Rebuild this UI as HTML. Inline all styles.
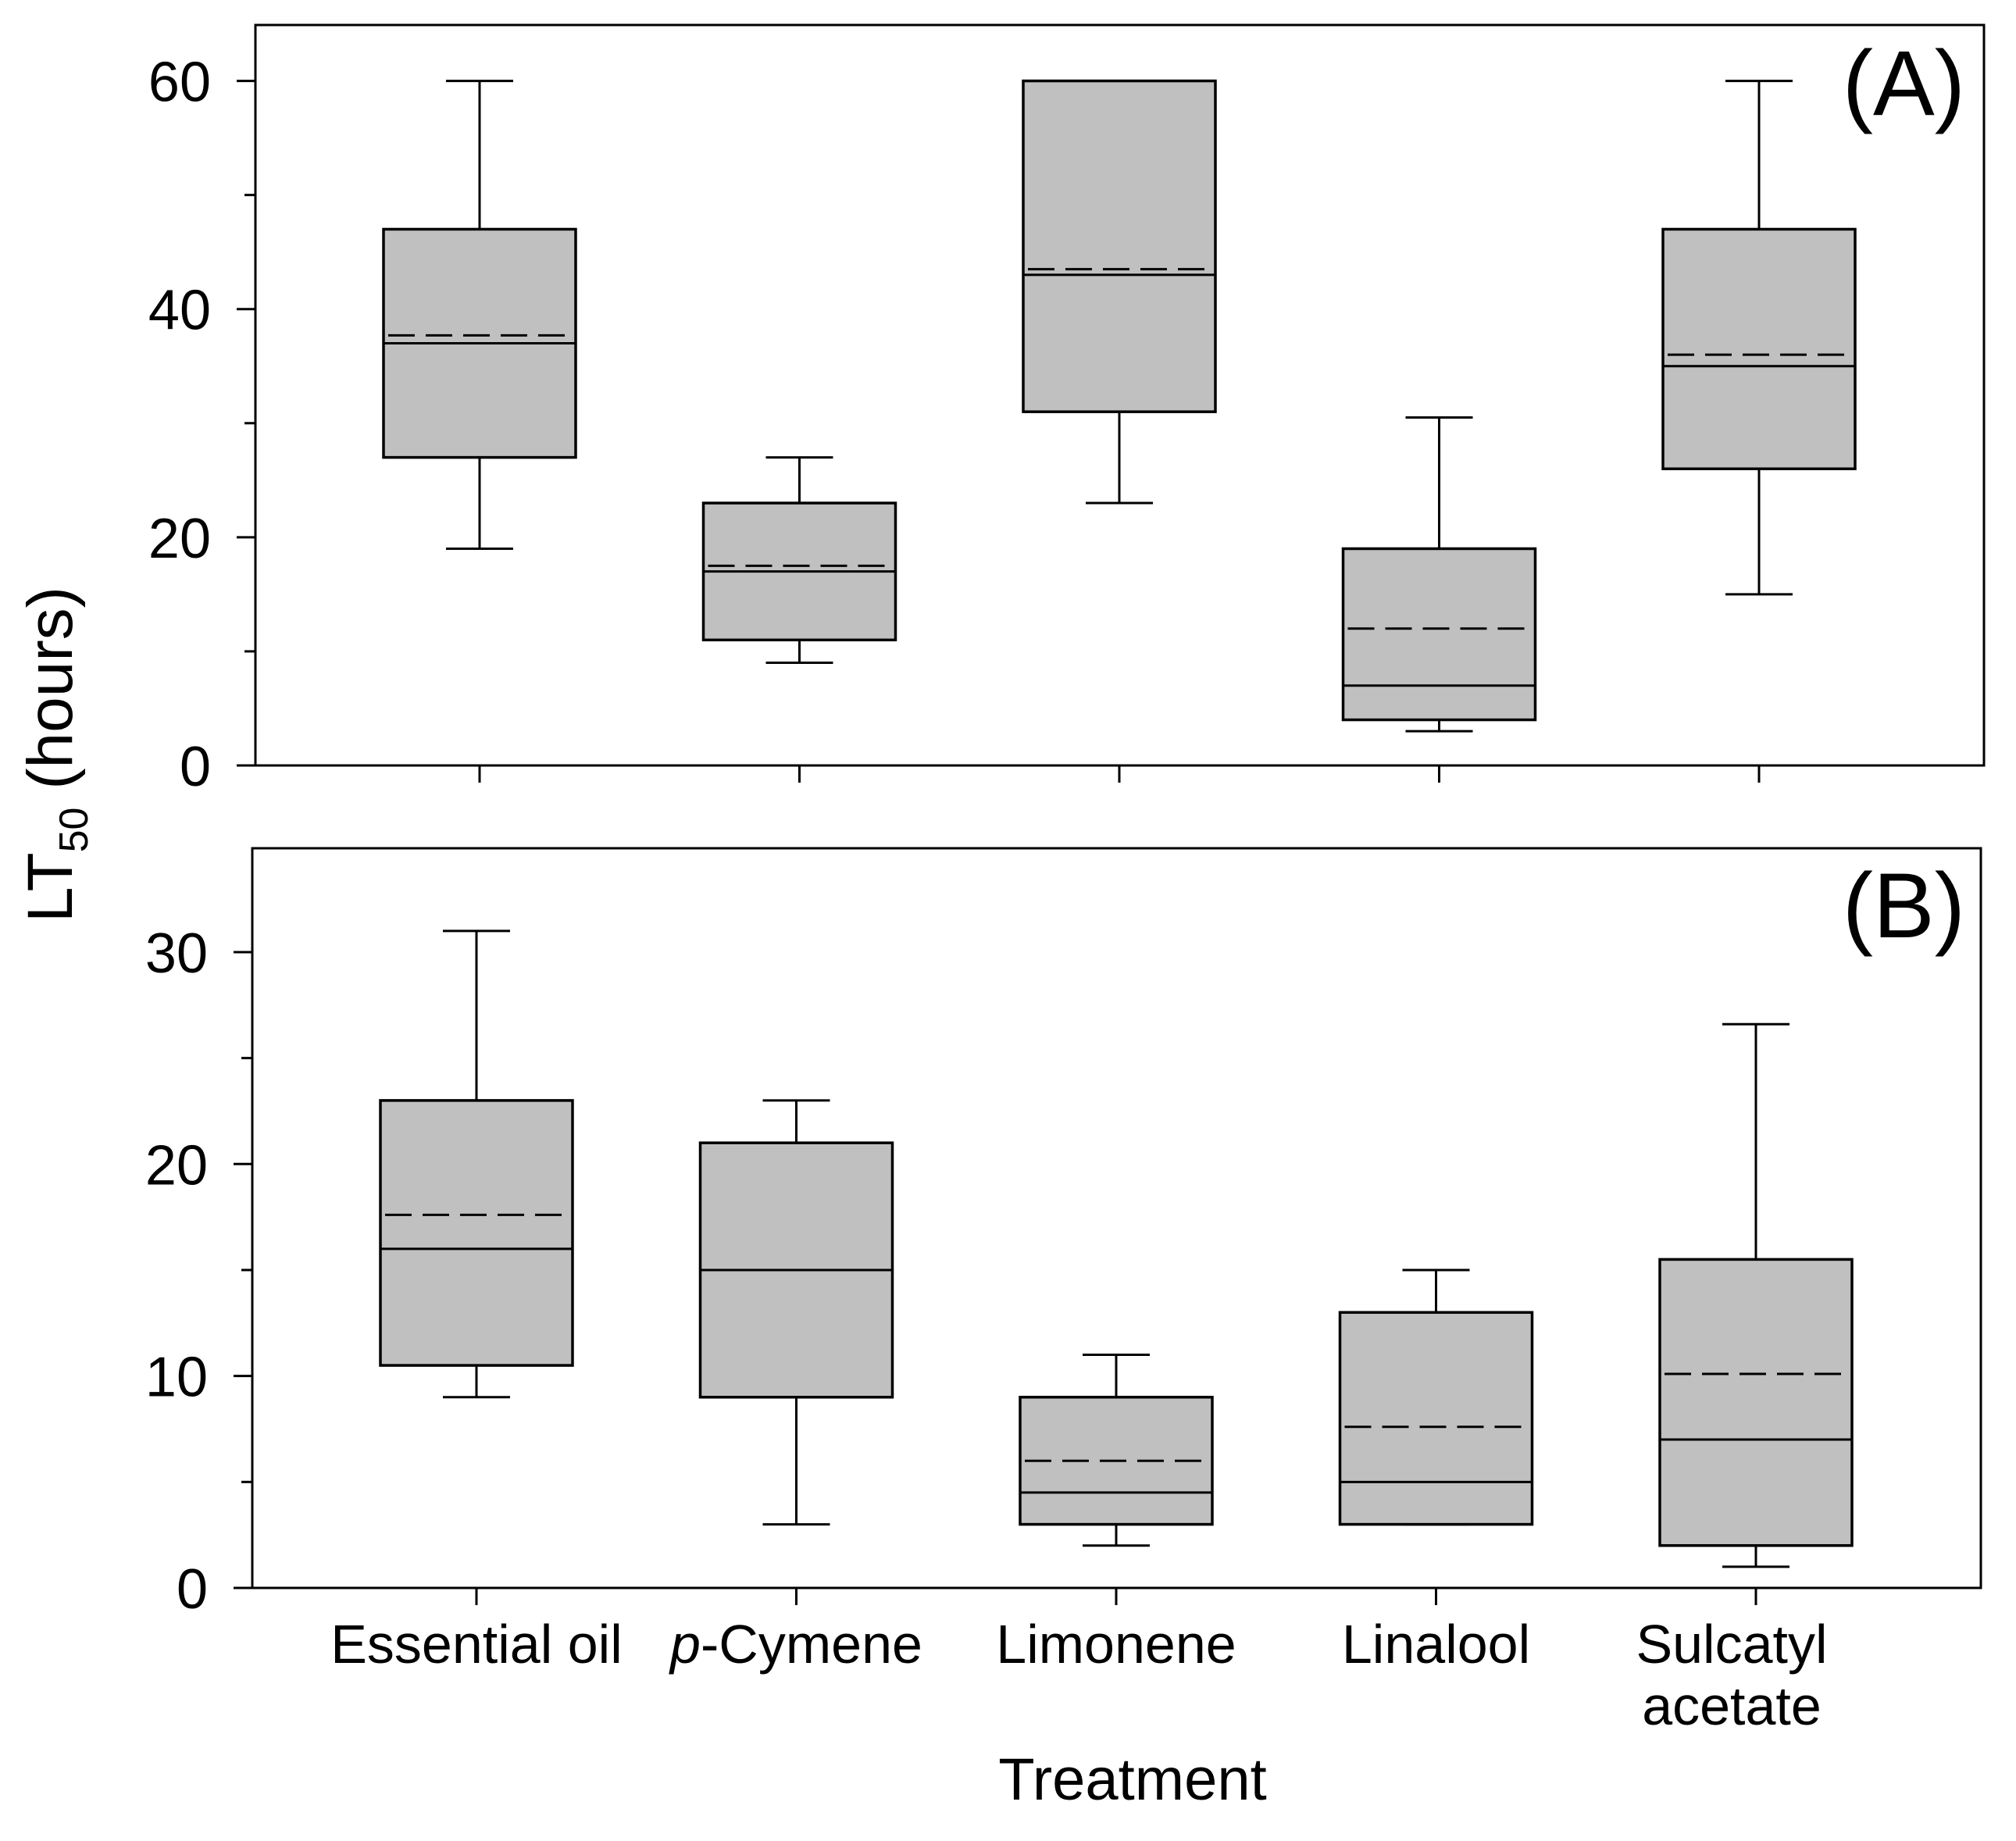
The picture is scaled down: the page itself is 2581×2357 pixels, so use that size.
<!DOCTYPE html>
<html><head><meta charset="utf-8"><style>
html,body{margin:0;padding:0;background:#fff;}
svg{display:block;font-family:"Liberation Sans",Arial,sans-serif;}
</style></head><body>
<svg id="chart" width="2581" height="2357" viewBox="0 0 2581 2357" xmlns="http://www.w3.org/2000/svg">
<text transform="translate(92,1181) rotate(-90)" font-size="82" fill="#000">LT<tspan font-size="52" dy="20">50</tspan><tspan dy="-20"> (hours)</tspan></text>
<text x="1450" y="2304" font-size="76" text-anchor="middle" fill="#000">Treatment</text>
<g id="plots"></g>
</svg>
<script>
const categories = ["Essential oil", "p-Cymene", "Limonene", "Linalool", "Sulcatyl acetate"];
// Panel A
const aWhiskerLow = [19, 9, 23, 3, 15];
const aQ1 = [27, 11, 31, 4, 26];
const aMedian = [37, 17, 43, 7, 35];
const aMean = [37.7, 17.5, 43.5, 12, 36];
const aQ3 = [47, 23, 60, 19, 47];
const aWhiskerHigh = [60, 27, 60, 30.5, 60];
const aTicks = [0, 20, 40, 60];
const aMinorTicks = [10, 30, 50];
// Panel B
const bWhiskerLow = [9, 3, 2, 3, 1];
const bQ1 = [10.5, 9, 3, 3, 2];
const bMedian = [16, 15, 4.5, 5, 7];
const bMean = [17.6, 15, 6, 7.6, 10.1];
const bQ3 = [23, 21, 9, 13, 15.5];
const bWhiskerHigh = [31, 23, 11, 15, 26.6];
const bTicks = [0, 10, 20, 30];
const bMinorTicks = [5, 15, 25];

const NS = "http://www.w3.org/2000/svg";
const root = document.getElementById("plots");
function mk(tag, attrs, parent) {
  const e = document.createElementNS(NS, tag);
  for (const k in attrs) e.setAttribute(k, attrs[k]);
  (parent || root).appendChild(e);
  return e;
}
function line(x1, y1, x2, y2, parent, extra) {
  const a = {x1, y1, x2, y2, stroke: "#000", "stroke-width": 3};
  if (extra) Object.assign(a, extra);
  return mk("line", a, parent);
}

function panel(cfg) {
  const g = mk("g", {});
  
  
  const L = cfg.left, R = cfg.right, T = cfg.top, B = cfg.bottom;
  const y = v => B - (v - cfg.min) / (cfg.max - cfg.min) * (B - T);
  const step = 409.5;
  const x = i => cfg.x0 + i * step;
  const frame = mk("rect", {x: L, y: T, width: R - L, height: B - T, fill: "none", stroke: "#000", "stroke-width": 3}, g);
  
  
  cfg.ticks.forEach(t => {
    const tk = line(L - 24, y(t), L, y(t), g);
    
    
    const tl = mk("text", {x: L - 57, y: y(t) + 26, "font-size": 72, "text-anchor": "end"}, g);
    tl.textContent = t;
    
    
  });
  cfg.minor.forEach(t => {
    const tk = line(L - 14, y(t), L, y(t), g);
    
    
  });
  categories.forEach((c, i) => {
    const tk = line(x(i), B, x(i), B + 22, g);
    
    
    const bx = mk("g", {}, g);
    
    
    const cx = x(i), hw = 123, cw = 43;
    line(cx, y(cfg.wh[i]), cx, y(cfg.q3[i]), bx);
    line(cx, y(cfg.q1[i]), cx, y(cfg.wl[i]), bx);
    line(cx - cw, y(cfg.wh[i]), cx + cw, y(cfg.wh[i]), bx);
    line(cx - cw, y(cfg.wl[i]), cx + cw, y(cfg.wl[i]), bx);
    mk("rect", {x: cx - hw, y: y(cfg.q3[i]), width: 2 * hw, height: y(cfg.q1[i]) - y(cfg.q3[i]), fill: "#c0c0c0", stroke: "#000", "stroke-width": 3.5}, bx);
    line(cx - hw, y(cfg.med[i]), cx + hw, y(cfg.med[i]), bx);
    line(cx - hw, y(cfg.mean[i]), cx + hw, y(cfg.mean[i]), bx, {"stroke-dasharray": "34 14", "stroke-dashoffset": "-6"});
  });
  const lab = mk("text", {x: 2516, y: cfg.labelY, "font-size": 118, "text-anchor": "end"}, g);
  lab.textContent = cfg.label;
  
  
  return {g, x, B};
}

panel({name: "panel-a", left: 327, right: 2540, top: 32, bottom: 980, min: 0, max: 64.9, x0: 614,
  ticks: aTicks, minor: aMinorTicks, wl: aWhiskerLow, q1: aQ1, med: aMedian, mean: aMean, q3: aQ3, wh: aWhiskerHigh,
  label: "(A)", labelY: 147});
const pb = panel({name: "panel-b", left: 323, right: 2536, top: 1086, bottom: 2033, min: 0, max: 34.9, x0: 610,
  ticks: bTicks, minor: bMinorTicks, wl: bWhiskerLow, q1: bQ1, med: bMedian, mean: bMean, q3: bQ3, wh: bWhiskerHigh,
  label: "(B)", labelY: 1200});

categories.forEach((c, i) => {
  const t = mk("text", {x: pb.x(i), y: 2129, "font-size": 70, "text-anchor": "middle"});
  
  
  if (c === "p-Cymene") {
    const s = mk("tspan", {"font-style": "italic"}, t); s.textContent = "p";
    const s2 = mk("tspan", {}, t); s2.textContent = "-Cymene";
  } else if (c === "Sulcatyl acetate") {
    const s = mk("tspan", {x: pb.x(i) - 31, y: 2129}, t); s.textContent = "Sulcatyl";
    const s2 = mk("tspan", {x: pb.x(i) - 31, y: 2208}, t); s2.textContent = "acetate";
  } else {
    t.textContent = c;
  }
});
</script>
</body></html>
